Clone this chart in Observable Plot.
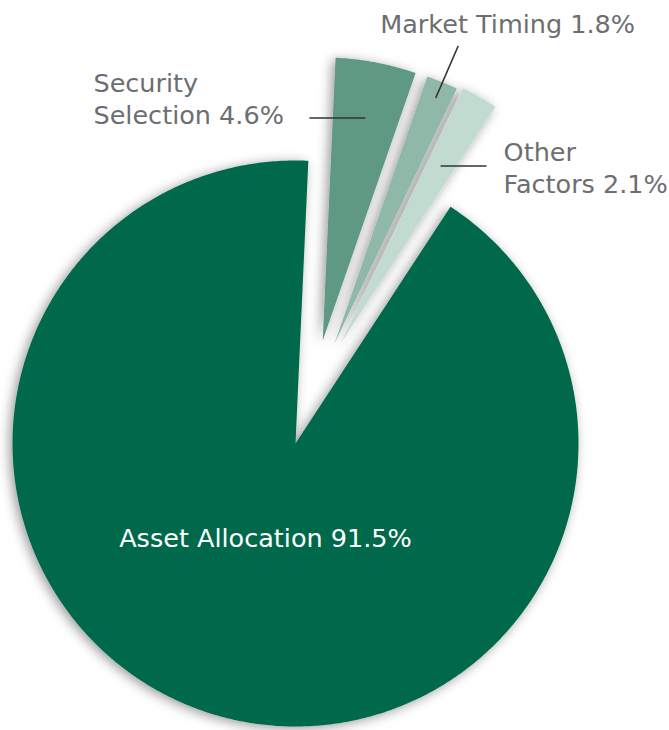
<!DOCTYPE html>
<html><head><meta charset="utf-8">
<script src="https://cdn.jsdelivr.net/npm/d3@7"></script>
<script src="https://cdn.jsdelivr.net/npm/@observablehq/plot@0.6"></script>
<style>body{margin:0;background:#fff} svg{display:block}</style>
</head><body><div id="chart"></div>
<script>
// ---- data ----
const categories = ["Security Selection", "Market Timing", "Other Factors", "Asset Allocation"];
const shares = [4.6, 1.8, 2.1, 91.5];
const labels = ["Security\nSelection 4.6%", "Market Timing 1.8%", "Other\nFactors 2.1%", "Asset Allocation 91.5%"];
const colors = ["#5e9883", "#8fb8a9", "#c2dbd1", "#00694b"];

// ---- layout (pixels) ----
const W = 669, H = 730, CX = 295, CY = 443, R = 283;
const startDeg = 2.6;
const explode = {
  "Security Selection": {dist: 106.6, deg: 14.8},
  "Market Timing": {dist: 107, deg: 21.3},
  "Other Factors": {dist: 109.7, deg: 24.2},
  "Asset Allocation": {dist: 0, deg: 0}
};
const annot = {
  "Security Selection": {f: 0.80, lead: [-56, 0], text: [-216, 6], anchor: "start", lineAnchor: "bottom", color: "#6d6e71"},
  "Market Timing": {f: 0.94, lead: [22.5, -52], text: [-78, -13], anchor: "start", lineAnchor: "bottom", color: "#6d6e71"},
  "Other Factors": {f: 0.72, lead: [46, 0], text: [17, 27], anchor: "start", lineAnchor: "bottom", color: "#6d6e71"},
  "Asset Allocation": {f: 0.345, lead: null, text: [0, 0], anchor: "middle", lineAnchor: "middle", color: "#ffffff"}
};

const rad = d => d * Math.PI / 180;
const rows = categories.map((c, i) => ({name: c, share: shares[i], label: labels[i], color: colors[i]}));
const pie = d3.pie().sort(null).value(d => d.share)
  .startAngle(rad(startDeg)).endAngle(rad(startDeg + 360));
const arcs = pie(rows);

const pts = [], leaders = [], texts = [];
arcs.forEach(a => {
  const name = a.data.name;
  const e = explode[name];
  const ox = e.dist / R * Math.sin(rad(e.deg)), oy = e.dist / R * Math.cos(rad(e.deg));
  pts.push({name, x: ox, y: oy});
  const n = Math.ceil((a.endAngle - a.startAngle) / rad(0.5));
  for (let k = 0; k <= n; k++) {
    const t = a.startAngle + (a.endAngle - a.startAngle) * k / n;
    pts.push({name, x: ox + Math.sin(t), y: oy + Math.cos(t)});
  }
  pts.push({name, x: ox, y: oy});
  const an = annot[name];
  const mid = (a.startAngle + a.endAngle) / 2;
  const ax = ox + an.f * Math.sin(mid), ay = oy + an.f * Math.cos(mid);
  let ex = ax, ey = ay;
  if (an.lead) {
    ex = ax + an.lead[0] / R; ey = ay - an.lead[1] / R;
    leaders.push({x1: ax, y1: ay, x2: ex, y2: ey});
  }
  texts.push({label: a.data.label, x: ex + an.text[0] / R, y: ey - an.text[1] / R, ...an});
});

const textMarks = texts.map(t => Plot.text([t], {
  x: "x", y: "y", text: "label", fill: t.color, textAnchor: t.anchor, lineAnchor: t.lineAnchor,
  fontSize: 25.5, fontFamily: "DejaVu Sans", lineHeight: 1.25
}));

const chart = Plot.plot({
  width: W, height: H, margin: 0,
  x: {domain: [-CX / R, (W - CX) / R], axis: null},
  y: {domain: [(CY - H) / R, CY / R], axis: null},
  color: {domain: categories, range: colors},
  marks: [
    Plot.line(pts, {x: "x", y: "y", z: "name", fill: "name", stroke: "none", curve: "linear"}),
    Plot.link(leaders, {x1: "x1", y1: "y1", x2: "x2", y2: "y2", stroke: "#333", strokeWidth: 1.5}),
    ...textMarks
  ]
});

// drop shadow on the slices
const ns = "http://www.w3.org/2000/svg";
const defs = document.createElementNS(ns, "defs");
defs.innerHTML = '<filter id="shadow" x="-20%" y="-20%" width="140%" height="140%"><feDropShadow dx="-3" dy="2" stdDeviation="6" flood-color="#000" flood-opacity="0.4"/></filter>';
chart.insertBefore(defs, chart.firstChild);
const lineG = chart.querySelector('g[aria-label="line"]');
if (lineG) lineG.setAttribute("filter", "url(#shadow)");

document.getElementById("chart").append(chart);
</script>
</body></html>
